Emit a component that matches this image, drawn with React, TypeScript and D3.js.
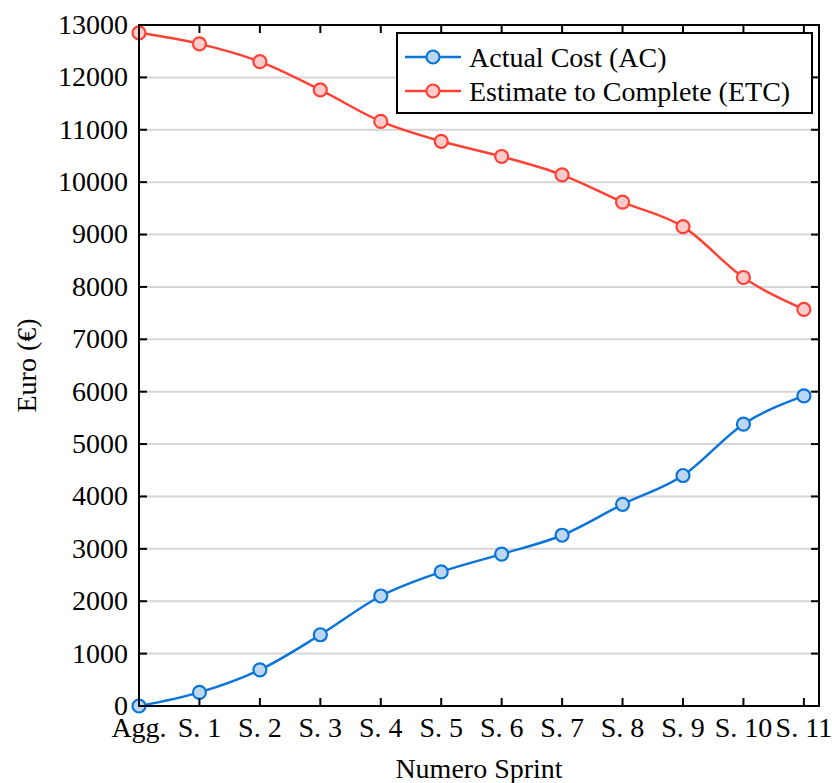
import React, { useEffect, useRef } from 'react';
import * as d3 from 'd3';

// sprint labels on the x axis
const categories = ['Agg.', 'S. 1', 'S. 2', 'S. 3', 'S. 4', 'S. 5', 'S. 6', 'S. 7', 'S. 8', 'S. 9', 'S. 10', 'S. 11'];

// Actual Cost (AC)
const acValues = [0, 260, 690, 1360, 2100, 2560, 2900, 3260, 3850, 4400, 5380, 5920];

// Estimate to Complete (ETC)
const etcValues = [12850, 12640, 12300, 11760, 11160, 10780, 10490, 10140, 9620, 9150, 8180, 7570];

const yTicks = [0, 1000, 2000, 3000, 4000, 5000, 6000, 7000, 8000, 9000, 10000, 11000, 12000, 13000];

const series = [
  { name: 'Actual Cost (AC)', values: acValues, stroke: '#0b74d8', fill: '#bcd8f1' },
  { name: 'Estimate to Complete (ETC)', values: etcValues, stroke: '#ff4136', fill: '#ffcccb' },
];

const FONT = '"Liberation Serif", "DejaVu Serif", serif';
const FS = 28;

export default function App() {
  const ref = useRef<SVGSVGElement | null>(null);

  useEffect(() => {
    const width = 832;
    const height = 783;
    const margin = { top: 25, right: 13, bottom: 77, left: 139 };

    const svg = d3.select(ref.current);
    svg.selectAll('*').remove();

    const x = d3.scaleLinear()
      .domain([0, categories.length - 0.75])
      .range([margin.left, width - margin.right]);
    const y = d3.scaleLinear()
      .domain([0, 13000])
      .range([height - margin.bottom, margin.top]);

    const x0 = x.range()[0];
    const x1 = x.range()[1];
    const y0 = y.range()[0];
    const y1 = y.range()[1];

    // grid lines
    svg.append('g')
      .selectAll('line')
      .data(yTicks.filter((t) => t > 0 && t < 13000))
      .enter().append('line')
      .attr('x1', x0).attr('x2', x1)
      .attr('y1', (d) => y(d)).attr('y2', (d) => y(d))
      .attr('stroke', '#d6d6d6')
      .attr('stroke-width', 2);

    // lines + markers
    const line = d3.line<number>()
      .x((_, i) => x(i))
      .y((d) => y(d))
      .curve(d3.curveMonotoneX);

    series.forEach((s) => {
      svg.append('path')
        .datum(s.values)
        .attr('d', line)
        .attr('fill', 'none')
        .attr('stroke', s.stroke)
        .attr('stroke-width', 2.5);
    });
    series.forEach((s) => {
      svg.append('g')
        .selectAll('circle')
        .data(s.values)
        .enter().append('circle')
        .attr('cx', (_, i) => x(i))
        .attr('cy', (d) => y(d))
        .attr('r', 6.5)
        .attr('fill', s.fill)
        .attr('stroke', s.stroke)
        .attr('stroke-width', 2.2);
    });

    // frame
    svg.append('rect')
      .attr('x', x0).attr('y', y1)
      .attr('width', x1 - x0).attr('height', y0 - y1)
      .attr('fill', 'none')
      .attr('stroke', '#000')
      .attr('stroke-width', 2);

    // ticks (inward)
    const tickLen = 8;
    const ticks = svg.append('g').attr('stroke', '#000').attr('stroke-width', 2);
    categories.forEach((_, i) => {
      ticks.append('line').attr('x1', x(i)).attr('x2', x(i)).attr('y1', y0).attr('y2', y0 - tickLen);
      ticks.append('line').attr('x1', x(i)).attr('x2', x(i)).attr('y1', y1).attr('y2', y1 + tickLen);
    });
    yTicks.forEach((t) => {
      ticks.append('line').attr('x1', x0).attr('x2', x0 + tickLen).attr('y1', y(t)).attr('y2', y(t));
      ticks.append('line').attr('x1', x1).attr('x2', x1 - tickLen).attr('y1', y(t)).attr('y2', y(t));
    });

    // tick labels
    svg.append('g')
      .selectAll('text')
      .data(yTicks)
      .enter().append('text')
      .attr('x', x0 - 11)
      .attr('y', (d) => y(d))
      .attr('dy', '0.32em')
      .attr('text-anchor', 'end')
      .attr('font-family', FONT)
      .attr('font-size', FS)
      .text((d) => String(d));

    svg.append('g')
      .selectAll('text')
      .data(categories)
      .enter().append('text')
      .attr('x', (_, i) => x(i))
      .attr('y', y0 + 31)
      .attr('text-anchor', 'middle')
      .attr('font-family', FONT)
      .attr('font-size', FS)
      .text((d) => d);

    // axis titles
    svg.append('text')
      .attr('x', (x0 + x1) / 2)
      .attr('y', height - 5)
      .attr('text-anchor', 'middle')
      .attr('font-family', FONT)
      .attr('font-size', FS)
      .text('Numero Sprint');

    svg.append('text')
      .attr('transform', `translate(36,${(y0 + y1) / 2}) rotate(-90)`)
      .attr('text-anchor', 'middle')
      .attr('font-family', FONT)
      .attr('font-size', FS)
      .text('Euro (€)');

    // legend
    const lg = svg.append('g').attr('transform', 'translate(397,33)');
    lg.append('rect')
      .attr('width', 415).attr('height', 80)
      .attr('fill', '#fff')
      .attr('stroke', '#000')
      .attr('stroke-width', 2);
    series.forEach((s, i) => {
      const ry = 24 + i * 34;
      lg.append('line')
        .attr('x1', 8).attr('x2', 64)
        .attr('y1', ry).attr('y2', ry)
        .attr('stroke', s.stroke).attr('stroke-width', 2.5);
      lg.append('circle')
        .attr('cx', 36).attr('cy', ry).attr('r', 6.5)
        .attr('fill', s.fill).attr('stroke', s.stroke).attr('stroke-width', 2.2);
      lg.append('text')
        .attr('x', 72).attr('y', ry)
        .attr('dy', '0.34em')
        .attr('font-family', FONT)
        .attr('font-size', FS)
        .text(s.name);
    });
  }, []);

  return (
    <svg
      ref={ref}
      width={832}
      height={783}
      style={{ position: 'absolute', left: 0, top: 0, background: '#fff' }}
    />
  );
}
